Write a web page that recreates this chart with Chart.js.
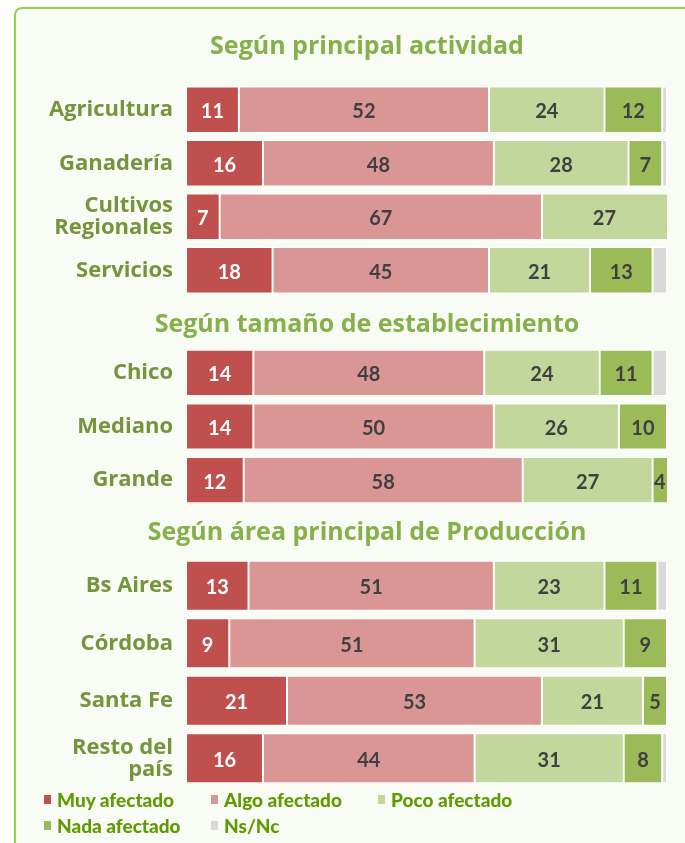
<!DOCTYPE html>
<html>
<head>
<meta charset="utf-8">
<script src="https://cdn.jsdelivr.net/npm/chart.js@4.4.0/dist/chart.umd.min.js"></script>
<style>
    html, body { margin: 0; padding: 0; width: 685px; height: 843px; overflow: hidden; background: #ffffff; font-family: Lato, sans-serif; }
    #panel { position: absolute; left: 14px; top: 7px; width: 720px; height: 860px; border-left: 2px solid #92d050; border-top: 2px solid #92d050; border-top-left-radius: 8px; background: #f8fcf5; }
    .box { position: absolute; left: 46px; width: 642px; }
    #legend { position: absolute; left: 44px; top: 786px; width: 520px; display: flex; flex-wrap: wrap; }
    .item { width: 167px; height: 26px; display: flex; align-items: center; font-weight: 900; font-size: 19px; color: #5f9a00; }
    .sq { width: 7px; height: 9px; margin-right: 6px; }
</style>
</head>
<body>
<div id="panel"></div>
<div class="box" style="top:30px;height:267px"><canvas id="actividad"></canvas></div>
<div class="box" style="top:308px;height:199px"><canvas id="tamano"></canvas></div>
<div class="box" style="top:516px;height:271px"><canvas id="area"></canvas></div>
<div id="legend"></div>

<script>
// Series (respuestas)
const SERIES = ['Muy afectado', 'Algo afectado', 'Poco afectado', 'Nada afectado', 'Ns/Nc'];
const COLORS = ['#c0504d', '#da9694', '#c3d69b', '#9bbb59', '#d9d9d9'];

// Según principal actividad
const ACTIVIDAD_LABELS = ['Agricultura', 'Ganadería', ['Cultivos', 'Regionales'], 'Servicios'];
const ACTIVIDAD_MUY = [11, 16, 7, 18];
const ACTIVIDAD_ALGO = [52, 48, 67, 45];
const ACTIVIDAD_POCO = [24, 28, 27, 21];
const ACTIVIDAD_NADA = [12, 7, 0, 13];
const ACTIVIDAD_NSNC = [1, 1, 0, 3];

// Según tamaño de establecimiento
const TAMANO_LABELS = ['Chico', 'Mediano', 'Grande'];
const TAMANO_MUY = [14, 14, 12];
const TAMANO_ALGO = [48, 50, 58];
const TAMANO_POCO = [24, 26, 27];
const TAMANO_NADA = [11, 10, 4];
const TAMANO_NSNC = [3, 0, 0];

// Según área principal de Producción
const AREA_LABELS = ['Bs Aires', 'Córdoba', 'Santa Fe', ['Resto del', 'país']];
const AREA_MUY = [13, 9, 21, 16];
const AREA_ALGO = [51, 51, 53, 44];
const AREA_POCO = [23, 31, 21, 31];
const AREA_NADA = [11, 9, 5, 8];
const AREA_NSNC = [2, 0, 0, 1];

const TEXT_FONT = "'Open Sans'";
const NUM_FONT = 'Lato';

// Etiquetas de valor dentro de cada segmento (sin Ns/Nc)
const valueLabels = {
    id: 'valueLabels',
    afterDatasetsDraw(chart) {
        const ctx = chart.ctx;
        const area = chart.chartArea;
        ctx.save();
        ctx.font = 'bold 20px ' + NUM_FONT;
        ctx.textAlign = 'center';
        ctx.textBaseline = 'middle';
        chart.data.datasets.forEach((ds, i) => {
            if (i === 4) return;
            chart.getDatasetMeta(i).data.forEach((bar, j) => {
                const v = ds.data[j];
                if (!v) return;
                const p = bar.getProps(['x', 'y', 'base'], true);
                const right = Math.min(p.x, area.right);
                ctx.fillStyle = i === 0 ? '#ffffff' : '#404040';
                ctx.fillText(String(v), (right + p.base) / 2, p.y + 2);
            });
        });
        ctx.restore();
    }
};

function makeChart(id, title, titlePad, labels, series, barPct) {
    const ctx = document.getElementById(id).getContext('2d');
    return new Chart(ctx, {
        type: 'bar',
        data: {
            labels: labels,
            datasets: series.map((data, i) => ({
                label: SERIES[i],
                data: data,
                backgroundColor: COLORS[i],
                borderColor: '#ffffff',
                borderWidth: 1,
                borderSkipped: false,
                barPercentage: barPct,
                categoryPercentage: 1,
                clip: 0
            }))
        },
        options: {
            indexAxis: 'y',
            responsive: true,
            maintainAspectRatio: false,
            animation: false,
            layout: { padding: 0 },
            plugins: {
                legend: { display: false },
                tooltip: { enabled: false },
                title: {
                    display: true,
                    text: title,
                    color: '#86b04a',
                    font: { family: TEXT_FONT, size: 25, weight: 'bold', lineHeight: 1.2 },
                    padding: { top: 2, bottom: titlePad - 2 }
                }
            },
            scales: {
                x: { display: false, stacked: true, min: 0, max: 100 },
                y: {
                    stacked: true,
                    grid: { display: false, drawTicks: false },
                    border: { display: false },
                    ticks: {
                        color: '#77933c',
                        padding: 13,
                        font: { family: TEXT_FONT, size: 22, weight: 'bold', lineHeight: 1.0 }
                    },
                    afterFit(scale) {
                        scale.width = 140;
                        scale.paddingTop = 0;
                        scale.paddingBottom = 0;
                    }
                },
                // eje vacío a la derecha: sólo reserva margen para centrar el título
                margen: {
                    type: 'category',
                    position: 'right',
                    grid: { display: false, drawTicks: false },
                    border: { display: false },
                    ticks: { display: false },
                    afterFit(scale) {
                        scale.width = 21;
                        scale.paddingTop = 0;
                        scale.paddingBottom = 0;
                    }
                }
            }
        },
        plugins: [valueLabels]
    });
}

makeChart('actividad', 'Según principal actividad', 23,
    ACTIVIDAD_LABELS, [ACTIVIDAD_MUY, ACTIVIDAD_ALGO, ACTIVIDAD_POCO, ACTIVIDAD_NADA, ACTIVIDAD_NSNC], 0.87);
makeChart('tamano', 'Según tamaño de establecimiento', 8,
    TAMANO_LABELS, [TAMANO_MUY, TAMANO_ALGO, TAMANO_POCO, TAMANO_NADA, TAMANO_NSNC], 0.86);
makeChart('area', 'Según área principal de Producción', 11,
    AREA_LABELS, [AREA_MUY, AREA_ALGO, AREA_POCO, AREA_NADA, AREA_NSNC], 0.87);

// Leyenda
const legend = document.getElementById('legend');
SERIES.forEach((name, i) => {
    const item = document.createElement('div');
    item.className = 'item';
    const sq = document.createElement('span');
    sq.className = 'sq';
    sq.style.background = COLORS[i];
    item.appendChild(sq);
    item.appendChild(document.createTextNode(name));
    legend.appendChild(item);
});
</script>
</body>
</html>
